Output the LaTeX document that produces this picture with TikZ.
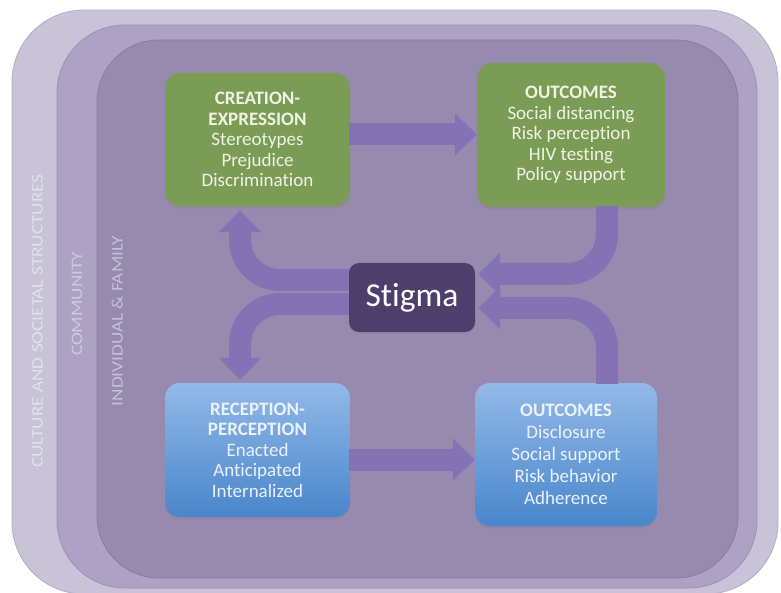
\documentclass[tikz,border=0pt]{standalone}
\usepackage{fontspec}
\setmainfont{Carlito}[Ligatures=NoCommon]
\usetikzlibrary{arrows.meta,calc,shadows}

\definecolor{cult}{HTML}{C8C3D7}
\definecolor{comm}{HTML}{ADA2C4}
\definecolor{indiv}{HTML}{978AAF}
\definecolor{cultedge}{HTML}{B3ADC6}
\definecolor{commedge}{HTML}{9C91B5}
\definecolor{indivedge}{HTML}{887CA2}
\definecolor{bandc}{HTML}{8373B5}
\definecolor{grn}{HTML}{7B9C55}
\definecolor{bluetop}{HTML}{93B9E8}
\definecolor{bluebot}{HTML}{4886CB}
\definecolor{stig}{HTML}{4E3E6C}
\definecolor{gtxt}{HTML}{EEF3E6}
\definecolor{btxt}{HTML}{EAF1FA}
\definecolor{culttxt}{HTML}{E4E1EC}
\definecolor{commtxt}{HTML}{D0C9DF}
\definecolor{indivtxt}{HTML}{C8BFD8}

\begin{document}
\begin{tikzpicture}[x=1pt,y=-1pt,
  layer/.style={rounded corners=#1, line width=0.8pt},
  gbox/.style={fill=grn, rounded corners=15pt, align=center, text=gtxt,
    font=\fontsize{19}{20.5}\selectfont, inner sep=0pt,
    drop shadow={shadow xshift=0pt, shadow yshift=-2.5pt, opacity=0.25}},
  bbox/.style={top color=bluetop, bottom color=bluebot, rounded corners=15pt, align=center, text=btxt,
    font=\fontsize{19}{20.5}\selectfont, inner sep=0pt,
    drop shadow={shadow xshift=0pt, shadow yshift=-2.5pt, opacity=0.25}},
  band/.style={draw=bandc, line width=22pt, rounded corners=40pt,
    -{Triangle[width=41pt,length=22pt]}},
  sidetext/.style={rotate=90, anchor=base, font=\fontsize{16}{16}\selectfont}
]
\useasboundingbox (0,0) rectangle (781,593);
\fill[white] (0,0) rectangle (781,593);

% nested layers
\filldraw[layer=72pt, fill=cult, draw=cultedge] (12,10) rectangle (778,594);
\filldraw[layer=68pt, fill=comm, draw=commedge] (57,25) rectangle (757,588);
\filldraw[layer=62pt, fill=indiv, draw=indivedge] (97,40) rectangle (738,578);

\node[sidetext, text=culttxt] (culture) at (42.5,321) {\scalebox{1.2}[1]{CULTURE AND SOCIETAL STRUCTURES}};
\node[sidetext, text=commtxt] (community) at (82,304) {\scalebox{1.2}[1]{COMMUNITY}};
\node[sidetext, text=indivtxt] (individual) at (122.5,321) {\scalebox{1.2}[1]{INDIVIDUAL \& FAMILY}};

% boxes
\node[gbox, minimum width=185pt, minimum height=133pt] (create) at (257.5,139.5)
  {\textbf{CREATION-}\\\textbf{EXPRESSION}\\Stereotypes\\Prejudice\\Discrimination};
\node[gbox, minimum width=188pt, minimum height=144pt] (outA) at (571,135)
  {\textbf{OUTCOMES}\\Social distancing\\Risk perception\\HIV testing\\Policy support};
\node[bbox, minimum width=185pt, minimum height=134pt] (recep) at (257.5,450)
  {\textbf{RECEPTION-}\\\textbf{PERCEPTION}\\Enacted\\Anticipated\\Internalized};
\node[bbox, minimum width=182pt, minimum height=143pt,
  font=\fontsize{19}{22}\selectfont] (outB) at (566,454.5)
  {\textbf{OUTCOMES}\\Disclosure\\Social support\\Risk behavior\\Adherence};

% arrows
\draw[band] ($(create.east)+(-1,-5)$) -- ($(outA.west)+(0,-0.5)$);
\draw[band] ($(recep.east)+(-1,9.5)$) -- ($(outB.west)+(0,5)$);

\coordinate (ulstart) at (380,280);
\coordinate (llstart) at (380,304);
\draw[band] (ulstart) -- (240,280) -- ($(create.south)+(-17.5,4)$);
\draw[band] (llstart) -- (240,304) -- ($(recep.north)+(-17.5,-3)$);

\node[fill=stig, rounded corners=10pt, minimum width=126pt, minimum height=69pt,
  text=white, font=\fontsize{33.5}{33.5}\selectfont, inner sep=0pt,
  drop shadow={shadow xshift=0pt, shadow yshift=-2pt, opacity=0.25}] (stigma) at (412,297.5) {Stigma};

\draw[band] ($(outA.south)+(36,-1)$) -- (607,274) -- ($(stigma.east)+(3,-23.5)$);
\draw[band] ($(outB.north)+(41,1)$) -- (607,308) -- ($(stigma.east)+(3,10.5)$);
\end{tikzpicture}
\end{document}
